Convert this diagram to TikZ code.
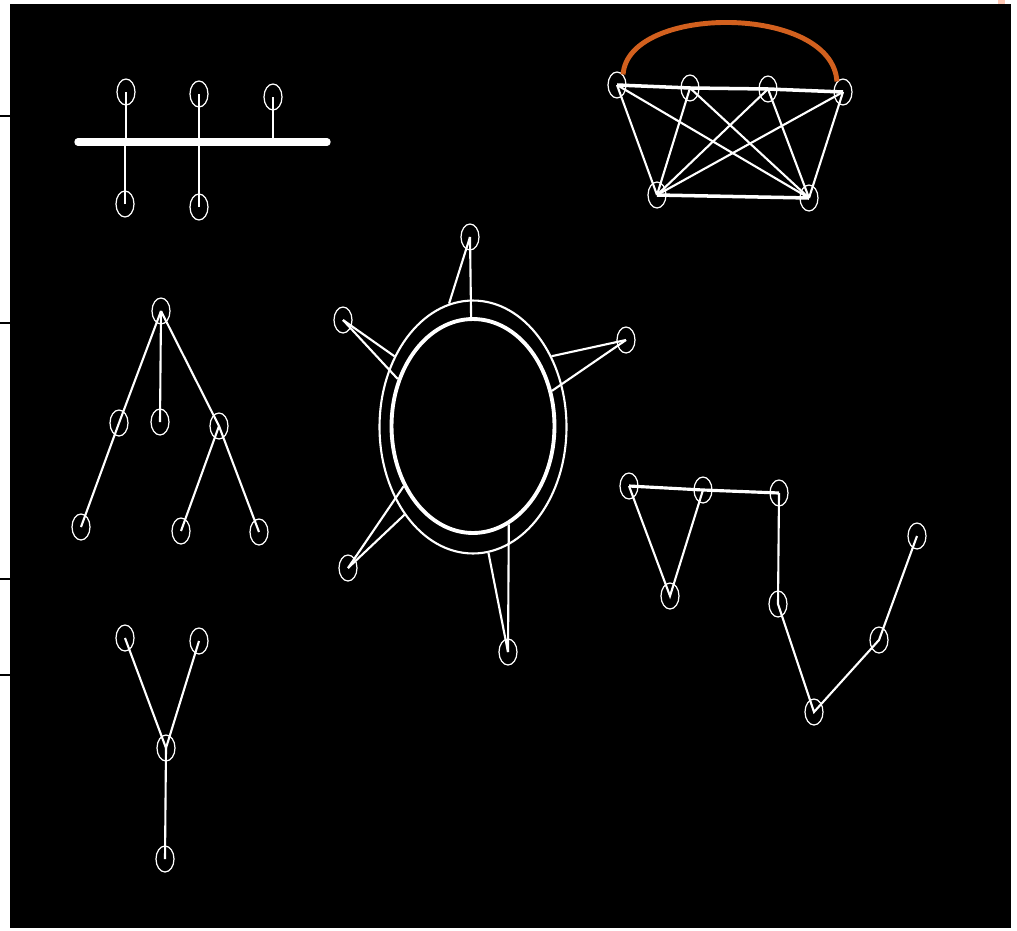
\documentclass[tikz,border=0pt]{standalone}
\usetikzlibrary{shapes.geometric}
\definecolor{arcorange}{RGB}{210,96,30}
\definecolor{peach}{RGB}{255,200,180}
\begin{document}
\begin{tikzpicture}[
    x=0.02cm, y=-0.02cm,
    vtx/.style={draw=white, ellipse, line width=0.7pt, inner sep=0pt, minimum width=0.36cm, minimum height=0.52cm},
    edge/.style={draw=white, line width=1.2pt},
    ring/.style={draw=white, ellipse, inner sep=0pt}
]
    \useasboundingbox (0,0) rectangle (1017,930);
    \fill[black] (10,4) rectangle (1011,928);
    \fill[peach] (998,0) rectangle (1005,4);
    \foreach \ty in {116,323,579,675}
        \draw[black, line width=1.2pt] (0,\ty) -- (10,\ty);

    % --- Bus (top left) ---
    \node[vtx] (b1) at (126,92) {};
    \node[vtx] (b2) at (199,94) {};
    \node[vtx] (b3) at (273,97) {};
    \node[vtx] (b4) at (125,204) {};
    \node[vtx] (b5) at (199,207) {};
    \coordinate (busL) at (78,142);
    \coordinate (busR) at (327,142);
    \draw[white, line width=4.2pt, line cap=round] (busL) -- (busR);
    \foreach \b in {b1,b2,b3,b4,b5}
        \draw[edge] (\b.center) -- (\b |- busL);

    % --- Mesh (top right) ---
    \node[vtx] (kA) at (617,85) {};
    \node[vtx] (kB) at (690,88) {};
    \node[vtx] (kC) at (768,89) {};
    \node[vtx] (kD) at (843,92) {};
    \node[vtx] (kE) at (657,195) {};
    \node[vtx] (kF) at (809,198) {};
    \draw[edge, line width=2pt] (kA.center) -- (kB.center) -- (kC.center) -- (kD.center);
    \draw[edge, line width=2pt] (kE.center) -- (kF.center);
    \foreach \u in {kA,kB,kC,kD}
        \foreach \v in {kE,kF}
            \draw[edge] (\u.center) -- (\v.center);
    \draw[arcorange, line width=2.8pt] (kA.60) .. controls (628,4) and (832,4) .. (kD.120);

    % --- Ring with satellites (centre) ---
    \node[ring, line width=1.2pt, minimum width=3.74cm, minimum height=5.06cm] (outer) at (473,427) {};
    \node[ring, line width=2.2pt, minimum width=3.26cm, minimum height=4.28cm] (inner) at (473,426) {};
    \node[vtx] (s1) at (470,237) {};
    \node[vtx] (s2) at (343,320) {};
    \node[vtx] (s3) at (626,340) {};
    \node[vtx] (s4) at (348,568) {};
    \node[vtx] (s5) at (508,652) {};
    \draw[edge] (s1.center) -- (outer.101);
    \draw[edge] (s1.center) -- (inner.91);
    \draw[edge] (s2.center) -- (outer.138);
    \draw[edge] (s2.center) -- (inner.148);
    \draw[edge] (s3.center) -- (outer.42);
    \draw[edge] (s3.center) -- (inner.24);
    \draw[edge] (s4.center) -- (outer.232);
    \draw[edge] (s4.center) -- (inner.221);
    \draw[edge] (s5.center) -- (outer.277);
    \draw[edge] (s5.center) -- (inner.290);

    % --- Tree (middle left) ---
    \node[vtx] (t0) at (161,311) {};
    \node[vtx] (t1) at (119,423) {};
    \node[vtx] (t2) at (160,422) {};
    \node[vtx] (t3) at (219,426) {};
    \node[vtx] (t4) at (81,527) {};
    \node[vtx] (t5) at (181,531) {};
    \node[vtx] (t6) at (259,532) {};
    \draw[edge] (t0.center) -- (t1.center);
    \draw[edge] (t0.center) -- (t2.center);
    \draw[edge] (t0.center) -- (t3.center);
    \draw[edge] (t1.center) -- (t4.center);
    \draw[edge] (t3.center) -- (t5.center);
    \draw[edge] (t3.center) -- (t6.center);

    % --- Y shape (bottom left) ---
    \node[vtx] (y1) at (125,638) {};
    \node[vtx] (y2) at (199,641) {};
    \node[vtx] (y3) at (166,748) {};
    \node[vtx] (y4) at (165,859) {};
    \draw[edge] (y1.center) -- (y3.center);
    \draw[edge] (y2.center) -- (y3.center);
    \draw[edge] (y3.center) -- (y4.center);

    % --- Path with triangle (right) ---
    \node[vtx] (p1) at (629,486) {};
    \node[vtx] (p2) at (703,490) {};
    \node[vtx] (p3) at (779,493) {};
    \node[vtx] (p4) at (670,596) {};
    \node[vtx] (p5) at (778,604) {};
    \node[vtx] (p6) at (814,712) {};
    \node[vtx] (p7) at (879,640) {};
    \node[vtx] (p8) at (917,536) {};
    \draw[edge, line width=1.8pt] (p1.center) -- (p2.center) -- (p3.center);
    \draw[edge] (p1.center) -- (p4.center) -- (p2.center);
    \draw[edge] (p3.center) -- (p5.center) -- (p6.center) -- (p7.center) -- (p8.center);
\end{tikzpicture}
\end{document}
